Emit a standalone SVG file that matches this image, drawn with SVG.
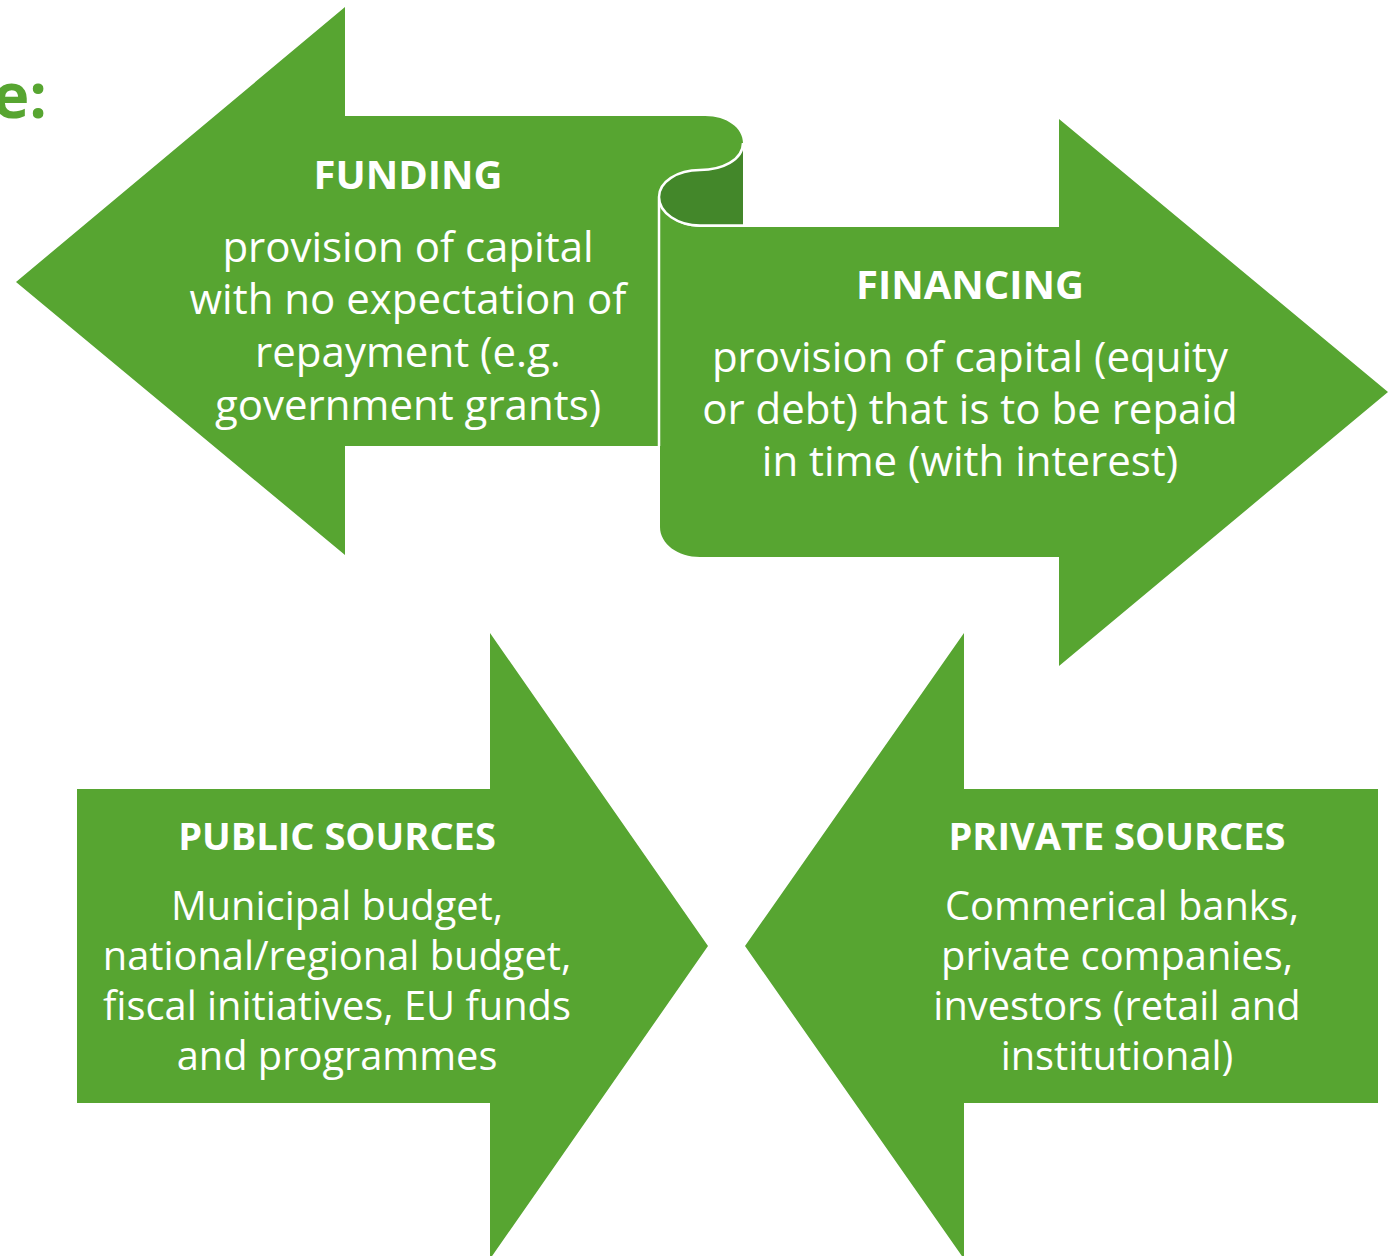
<svg xmlns="http://www.w3.org/2000/svg" width="1397" height="1256" viewBox="0 0 1397 1256">
<style>
.g{fill:#57A531}
.d{fill:#43872A}
.t{fill:#ffffff;font-family:"Open Sans","Noto Sans",sans-serif;text-anchor:middle}
.h{font-weight:bold;font-size:40px}
.b{font-size:42px}
.h2{font-weight:bold;font-size:38px}
.b2{font-size:39.8px}
</style>
<rect width="1397" height="1256" fill="#ffffff"/>
<text x="47" y="118" font-family="Open Sans, Noto Sans, sans-serif" font-weight="bold" font-size="62" fill="#57A531" text-anchor="end">e:</text>
<g id="connectors"/>
<g id="funding">
<path class="d" d="M743,143 C743,160 722,170 700,170 C677,170 659,182 659,197 C659,213 678,226 700,226 L743,226 Z"/>
<path class="g" d="M16,282 L345,7 L345,116 L705,116 C727,116 743,128 743,143 C743,160 722,170 700,170 C677,170 659,182 659,197 L659,446 L345,446 L345,555 Z"/>
<text class="t h" x="408" y="189">FUNDING</text>
<text class="t b" x="408" y="262">provision of capital</text>
<text class="t b" x="408" y="314">with no expectation of</text>
<text class="t b" x="408" y="367">repayment (e.g.</text>
<text class="t b" x="408" y="420">government grants)</text>
</g>
<g id="financing">
<path class="g" d="M660,197 C660,213 678,227 700,227 L1059,227 L1059,119 L1388,392 L1059,666 L1059,557 L700,557 C678,557 660,544 660,527 Z"/>
<path d="M743,143 C743,160 722,170 700,170 C677,170 659,182 659,197 L659,446 M659,197 C659,213 678,225.5 700,225.5 L743,225.5" fill="none" stroke="#ffffff" stroke-width="2.5"/>
<text class="t h" x="970" y="299">FINANCING</text>
<text class="t b" x="970" y="372">provision of capital (equity</text>
<text class="t b" x="970" y="424">or debt) that is to be repaid</text>
<text class="t b" x="970" y="476">in time (with interest)</text>
</g>
<g id="public">
<path class="g" d="M77,789 L490,789 L490,633 L708,946 L490,1259 L490,1103 L77,1103 Z"/>
<text class="t h2" x="337" y="850">PUBLIC SOURCES</text>
<text class="t b2" x="337" y="920">Municipal budget,</text>
<text class="t b2" x="337" y="970">national/regional budget,</text>
<text class="t b2" x="337" y="1020">fiscal initiatives, EU funds</text>
<text class="t b2" x="337" y="1070">and programmes</text>
</g>
<g id="private">
<path class="g" d="M1378,789 L964,789 L964,633 L745,946 L964,1259 L964,1103 L1378,1103 Z"/>
<text class="t h2" x="1117" y="850">PRIVATE SOURCES</text>
<text class="t b2" x="1122" y="920">Commerical banks,</text>
<text class="t b2" x="1117" y="970">private companies,</text>
<text class="t b2" x="1117" y="1020">investors (retail and</text>
<text class="t b2" x="1117" y="1070">institutional)</text>
</g>
</svg>
